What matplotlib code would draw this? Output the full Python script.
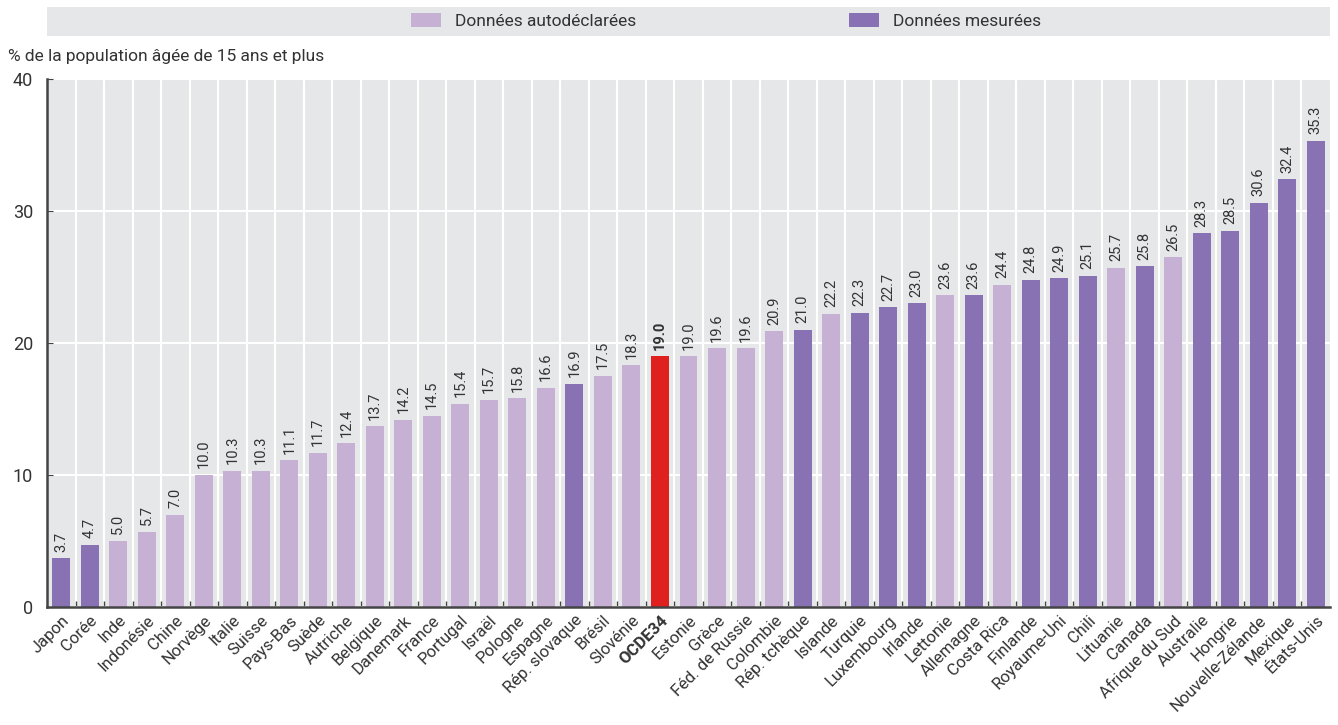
import numpy as np
import matplotlib
matplotlib.use('Agg')
import matplotlib.pyplot as plt
from matplotlib.patches import Patch, Rectangle

plt.rcParams['font.family'] = ['Roboto', 'DejaVu Sans']

countries = ['Japon', 'Corée', 'Inde', 'Indonésie', 'Chine', 'Norvège', 'Italie', 'Suisse',
             'Pays-Bas', 'Suède', 'Autriche', 'Belgique', 'Danemark', 'France', 'Portugal',
             'Israël', 'Pologne', 'Espagne', 'Rép. slovaque', 'Brésil', 'Slovénie', 'OCDE34',
             'Estonie', 'Grèce', 'Féd. de Russie', 'Colombie', 'Rép. tchèque', 'Islande',
             'Turquie', 'Luxembourg', 'Irlande', 'Lettonie', 'Allemagne', 'Costa Rica',
             'Finlande', 'Royaume-Uni', 'Chili', 'Lituanie', 'Canada', 'Afrique du Sud',
             'Australie', 'Hongrie', 'Nouvelle-Zélande', 'Mexique', 'États-Unis']
values = [3.7, 4.7, 5.0, 5.7, 7.0, 10.0, 10.3, 10.3, 11.1, 11.7, 12.4, 13.7, 14.2, 14.5, 15.4,
          15.7, 15.8, 16.6, 16.9, 17.5, 18.3, 19.0, 19.0, 19.6, 19.6, 20.9, 21.0, 22.2,
          22.3, 22.7, 23.0, 23.6, 23.6, 24.4, 24.8, 24.9, 25.1, 25.7, 25.8, 26.5,
          28.3, 28.5, 30.6, 32.4, 35.3]
# S = self-reported, M = measured, O = OECD average
kinds = ['M', 'M', 'S', 'S', 'S', 'S', 'S', 'S', 'S', 'S', 'S', 'S', 'S', 'S', 'S',
         'S', 'S', 'S', 'M', 'S', 'S', 'O', 'S', 'S', 'S', 'S', 'M', 'S',
         'M', 'M', 'M', 'S', 'M', 'S', 'M', 'M', 'M', 'S', 'M', 'S',
         'M', 'M', 'M', 'M', 'M']
legend_labels = ['Données autodéclarées', 'Données mesurées']

colors = {'S': '#C6B1D5', 'M': '#8872B3', 'O': '#E0201F'}
bg = '#E6E7E8'
txt = '#333333'

fig = plt.figure(figsize=(13.38, 7.25), dpi=100)
ax = fig.add_axes([47 / 1338, 1 - 607 / 725, 1283 / 1338, 528 / 725])
ax.set_facecolor(bg)

x = np.arange(len(countries))
ax.bar(x, values, width=0.63, color=[colors[k] for k in kinds], zorder=3)

for xi, v, k in zip(x, values, kinds):
    ax.text(xi, v + 0.5, f'{v:.1f}', rotation=90, ha='center', va='bottom',
            fontsize=10.5, color=txt, fontweight='bold' if k == 'O' else 'normal', zorder=4)

ax.set_xlim(-0.5, len(countries) - 0.5)
ax.set_ylim(0, 40)
ax.set_yticks([0, 10, 20, 30, 40])
ax.set_xticks(x)
ax.set_xticklabels(countries, rotation=45, ha='right', rotation_mode='anchor', fontsize=12, color=txt)
for lbl, k in zip(ax.get_xticklabels(), kinds):
    if k == 'O':
        lbl.set_fontweight('bold')
ax.set_xticks(x[:-1] + 0.5, minor=True)
ax.tick_params(axis='x', which='major', length=0, pad=4)
ax.tick_params(axis='x', which='minor', direction='in', length=4, color='#444444', width=1)
ax.tick_params(axis='y', direction='in', length=4, color='#444444', labelsize=13, labelcolor=txt, pad=10)

ax.grid(axis='y', color='white', linewidth=1.5, zorder=1)
ax.grid(axis='x', which='minor', color='white', linewidth=1.5, zorder=1)
ax.set_axisbelow(True)

for s in ['top', 'right']:
    ax.spines[s].set_visible(False)
for s in ['left', 'bottom']:
    ax.spines[s].set_color('#444444')
    ax.spines[s].set_linewidth(1.8)
    ax.spines[s].set_zorder(5)

fig.text(8 / 1338, 1 - 57 / 725, '% de la population âgée de 15 ans et plus',
         fontsize=12.5, color=txt, va='center', ha='left')

# legend band
fig.patches.append(Rectangle((47 / 1338, 1 - 36 / 725), 1283 / 1338, 29 / 725,
                             transform=fig.transFigure, facecolor=bg, edgecolor='none', zorder=0))
handles = [Patch(facecolor=colors['S']), Patch(facecolor=colors['M'])]
fig.legend(handles, legend_labels, loc='center', bbox_to_anchor=(726 / 1338, 1 - 21 / 725),
           ncol=2, frameon=False, fontsize=12.5, handlelength=1.7, handleheight=0.9,
           columnspacing=12.3, labelcolor=txt)

fig.savefig('out.png', dpi=100)
